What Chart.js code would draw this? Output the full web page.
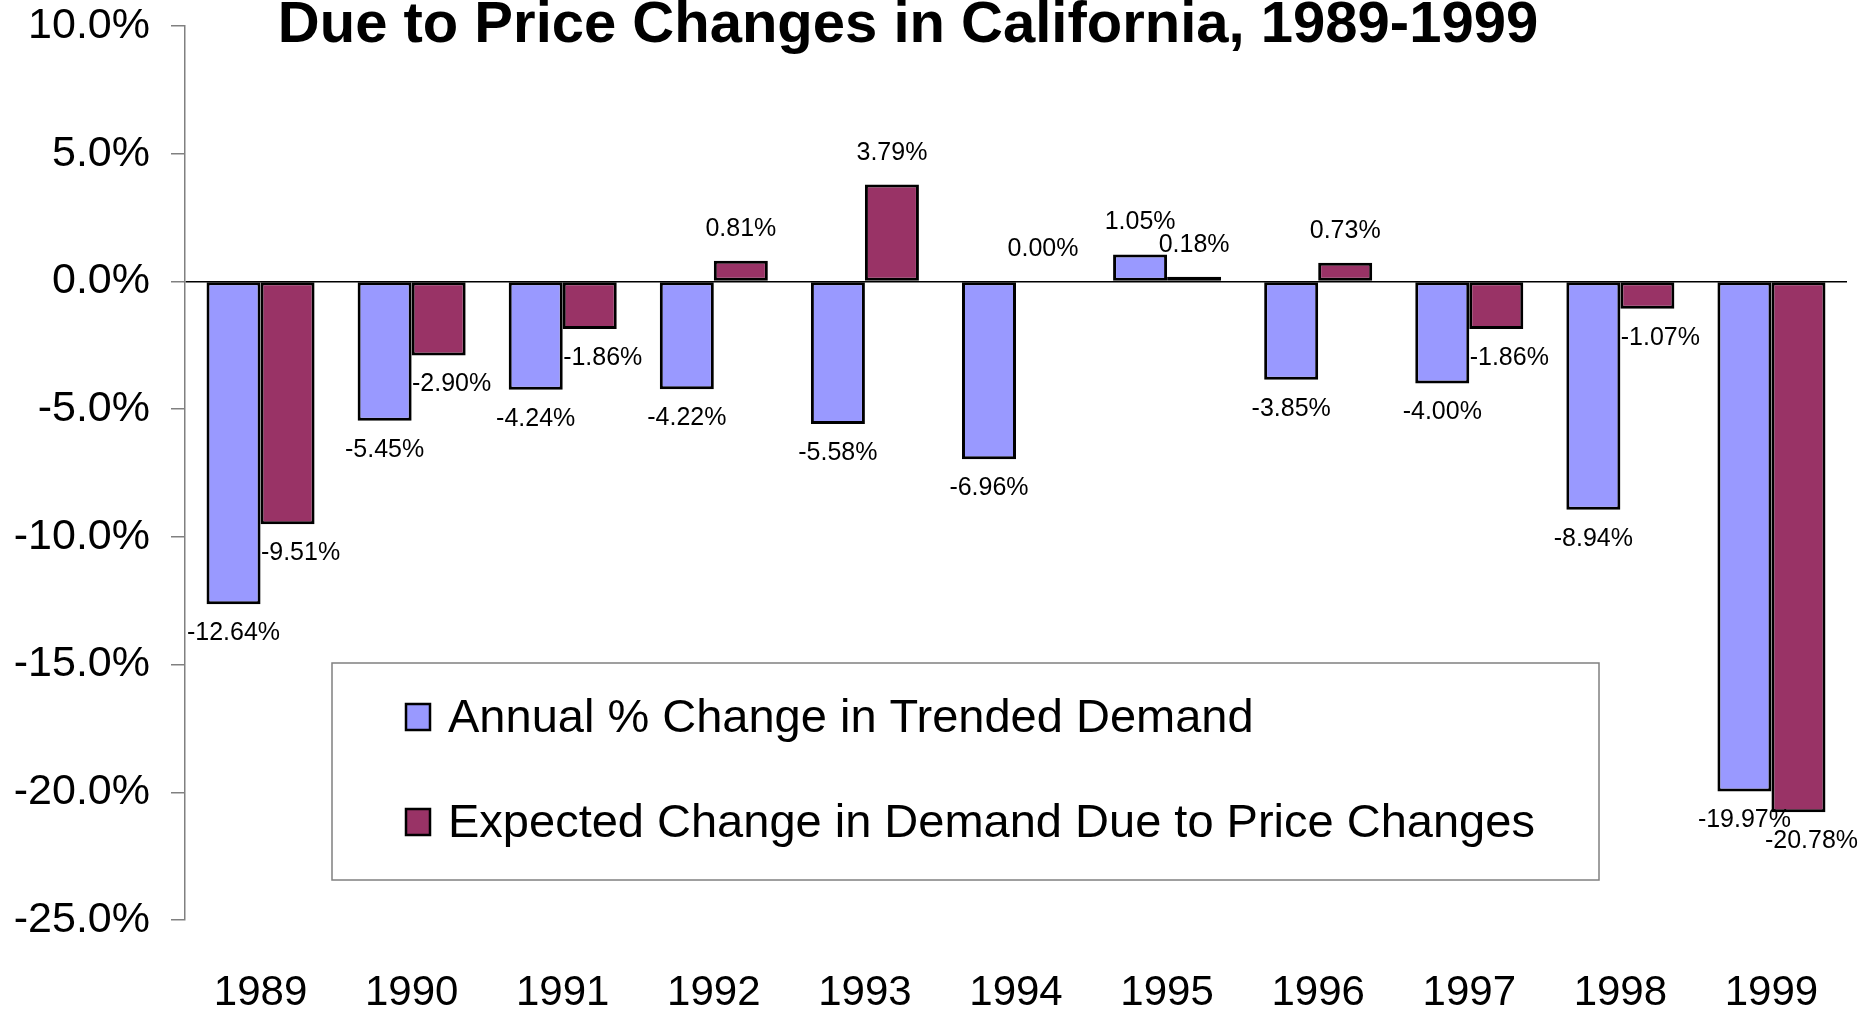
<!DOCTYPE html>
<html><head><meta charset="utf-8">
<script src="https://cdn.jsdelivr.net/npm/chart.js@4/dist/chart.umd.min.js"></script>
<style>html,body{margin:0;padding:0;background:#fff;} #wrap{width:1874px;height:1010px;}</style>
</head><body><div id="wrap"><canvas id="c" width="1874" height="1010"></canvas></div>
<script>
const chartTitle = 'Due to Price Changes in California, 1989-1999';
const categories = ['1989','1990','1991','1992','1993','1994','1995','1996','1997','1998','1999'];
const seriesNames = ['Annual % Change in Trended Demand', 'Expected Change in Demand Due to Price Changes'];
const trendedDemand = [-12.64, -5.45, -4.24, -4.22, -5.58, -6.96, 1.05, -3.85, -4.00, -8.94, -19.97];
const priceEffect = [-9.51, -2.90, -1.86, 0.81, 3.79, 0.00, 0.18, 0.73, -1.86, -1.07, -20.78];
const yMin = -25, yMax = 10, yStep = 5;
const seriesColors = ['#9999FF', '#993366'];

const FONT = "'Liberation Sans', Arial, sans-serif";

const titlePlugin = {
  id: 'titleText',
  afterDraw(chart) {
    const ctx = chart.ctx;
    ctx.save();
    ctx.font = 'bold 58px ' + FONT;
    ctx.fillStyle = '#000';
    ctx.textAlign = 'center';
    ctx.textBaseline = 'alphabetic';
    ctx.fillText(chartTitle, 908, 42);
    ctx.restore();
  }
};

const labelPlugin = {
  id: 'valueLabels',
  afterDatasetsDraw(chart) {
    const ctx = chart.ctx;
    ctx.save();
    ctx.font = '25px ' + FONT;
    ctx.fillStyle = '#000';
    ctx.textAlign = 'center';
    ctx.textBaseline = 'middle';
    chart.data.datasets.forEach((ds, di) => {
      const meta = chart.getDatasetMeta(di);
      meta.data.forEach((el, i) => {
        const v = ds.data[i];
        const txt = v.toFixed(2) + '%';
        let x = el.x;
        let y;
        if (v < 0) { y = el.y + 29; if (di === 1) x += 13; }
        else { y = el.y - 32; }
        ctx.fillText(txt, x, y);
      });
    });
    ctx.restore();
  }
};

const legendPlugin = {
  id: 'legendBox',
  afterDraw(chart) {
    const ctx = chart.ctx;
    ctx.save();
    ctx.strokeStyle = '#808080';
    ctx.lineWidth = 1.5;
    ctx.strokeRect(332, 663, 1267, 217);
    ctx.font = '47px ' + FONT;
    ctx.textBaseline = 'middle';
    ctx.textAlign = 'left';
    const rows = [717, 822];
    chart.data.datasets.forEach((ds, di) => {
      const cy = rows[di];
      ctx.fillStyle = ds.backgroundColor;
      ctx.fillRect(406, cy - 13, 24, 26);
      ctx.strokeStyle = '#000';
      ctx.lineWidth = 2.5;
      ctx.strokeRect(406, cy - 13, 24, 26);
      ctx.fillStyle = '#000';
      ctx.fillText(ds.label, 448, cy + 2);
    });
    ctx.restore();
  }
};

new Chart(document.getElementById('c'), {
  type: 'bar',
  data: {
    labels: categories,
    datasets: [
      { label: seriesNames[0], data: trendedDemand, backgroundColor: seriesColors[0], borderColor: '#000', borderWidth: 3, borderSkipped: false },
      { label: seriesNames[1], data: priceEffect, backgroundColor: seriesColors[1], borderColor: '#000', borderWidth: 3, borderSkipped: false }
    ]
  },
  options: {
    responsive: false,
    animation: false,
    devicePixelRatio: 1,
    categoryPercentage: 0.715,
    barPercentage: 1,
    layout: { padding: { left: 0, top: 26, right: 27, bottom: 0 } },
    plugins: { legend: { display: false }, title: { display: false }, tooltip: { enabled: false } },
    scales: {
      x: {
        grid: { display: false, drawTicks: false },
        border: { display: false },
        ticks: { color: '#000', font: { family: FONT, size: 42 }, padding: 48, maxRotation: 0, autoSkip: false },
        afterFit(s) { s.height = 90; s.paddingLeft = 0; s.paddingRight = 0; }
      },
      y: {
        min: yMin, max: yMax,
        border: { display: true, color: '#808080', width: 1.5 },
        grid: {
          drawOnChartArea: true,
          color: (c) => (c.tick && c.tick.value === 0) ? '#000' : 'rgba(0,0,0,0)',
          lineWidth: 1.5,
          tickColor: '#808080',
          tickLength: 14
        },
        ticks: {
          stepSize: yStep,
          color: '#000',
          padding: 21,
          font: { family: FONT, size: 43 },
          callback: (v) => v.toFixed(1) + '%'
        },
        afterFit(s) { s.width = 185; s.paddingTop = 0; s.paddingBottom = 0; }
      }
    }
  },
  plugins: [titlePlugin, labelPlugin, legendPlugin]
});
</script>
</body></html>
